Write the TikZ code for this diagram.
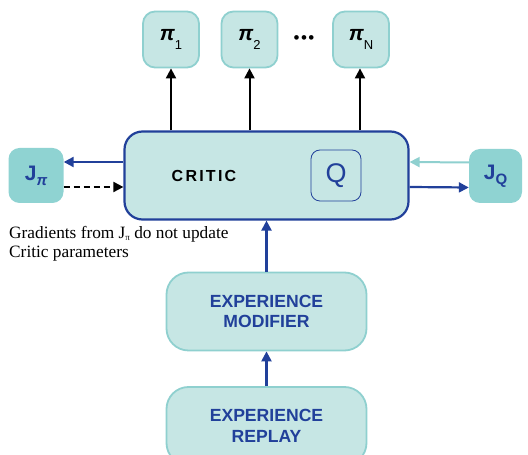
\documentclass[tikz,border=0pt]{standalone}
\usepackage{fontspec}
\setmainfont{Liberation Serif}
\setsansfont{Liberation Sans}
\usetikzlibrary{positioning}
\usetikzlibrary{arrows.meta}
\definecolor{boxfill}{HTML}{C6E6E4}
\definecolor{boxline}{HTML}{8FD0CF}
\definecolor{jfill}{HTML}{8FD3D2}
\definecolor{darkblue}{HTML}{21409A}
\tikzset{
	tealbox/.style={draw=boxline, line width=1.8pt, fill=boxfill, rounded corners=12pt, inner sep=0pt},
	jbox/.style={fill=jfill, rounded corners=11pt, inner sep=0pt, minimum width=55pt, minimum height=55pt, text=darkblue, font=\sffamily\bfseries\fontsize{21}{21}\selectfont},
	pibox/.style={tealbox, minimum width=56pt, minimum height=56pt, font=\sffamily\fontsize{21}{21}\selectfont},
	bigbox/.style={tealbox, rounded corners=22pt, minimum width=200pt, minimum height=78pt, text=darkblue, align=center, font=\sffamily\bfseries\fontsize{17.6}{20.5}\selectfont},
	blk/.style={-{Triangle[length=10pt,width=10pt]}, line width=2pt},
	bl/.style={-{Triangle[length=10pt,width=10pt]}, line width=2.2pt, draw=darkblue},
}
\newcommand{\pisym}[1]{{\bfseries\itshape π}\raisebox{-9pt}{\fontsize{13}{13}\selectfont #1}}
\begin{document}
\begin{tikzpicture}[x=1pt, y=1pt]
	\useasboundingbox (0,0) rectangle (528,455);
	\clip (0,0) rectangle (528,455);
	% Critic in the middle
	\node [tealbox, draw=darkblue, line width=2.2pt, rounded corners=18pt, minimum width=284pt, minimum height=88pt] at (266.5,279.5) (critic) {};
	\node [font=\sffamily\bfseries\addfontfeatures{LetterSpace=14}\fontsize{16}{16}\selectfont] at (204,279.5) (criticlbl) {CRITIC};
	\node [draw=darkblue, line width=0.8pt, rounded corners=9pt, minimum width=50pt, minimum height=51pt, text=darkblue, font=\sffamily\fontsize{27}{27}\selectfont] at (336,279.5) (Q) {Q};
	
	% Policies
	\node [pibox] at (171,415.5) (pi1) {\pisym{1}};
	\node [pibox] at (249.5,415.5) (pi2) {\pisym{2}};
	\node [pibox] at (361,415.5) (piN) {\pisym{N}};
	\node [font=\sffamily\fontsize{17}{17}\selectfont] at (304,415.5) (dots) {•\hspace{1.5pt}•\hspace{1.5pt}•};
	
	% Objectives
	\node [jbox] at (36,279.5) (Jpi) {J\raisebox{-5pt}{\fontsize{15}{15}\selectfont\itshape π}};
	\node [jbox, minimum width=53pt, minimum height=54pt] at (495.5,279) (JQ) {J\raisebox{-5pt}{\fontsize{15}{15}\selectfont Q}};
	\node [anchor=north west, align=left, inner sep=0pt, font=\fontsize{17.3}{19}\selectfont] at (9,229) (note) {Gradients from J\raisebox{-2pt}{\fontsize{9}{9}\selectfont π} do not update\\Critic parameters};
	
	% Experience
	\node [bigbox] at (266.5,143.5) (modifier) {EXPERIENCE\\MODIFIER};
	\node [bigbox] at (266.5,29) (replay) {EXPERIENCE\\REPLAY};
	
	% Connections
	\draw [blk] (critic.north -| pi1) -- (pi1.south);
	\draw [blk] (critic.north -| pi2) -- (pi2.south);
	\draw [blk] ([xshift=-1pt]critic.north -| piN) -- ([xshift=-1pt]piN.south);
	\draw [bl] ([yshift=13.5pt]critic.west) -- ([yshift=13.5pt]Jpi.east);
	\draw [blk, dash pattern=on 6pt off 4pt, line width=1.8pt] ([yshift=-11.5pt]Jpi.east) -- ([yshift=-11.5pt]critic.west);
	\draw [bl, draw=boxline, line width=2pt] ([yshift=13.5pt]JQ.west) -- ([yshift=13.5pt]critic.east);
	\draw [bl] ([yshift=-11.5pt]critic.east) -- ([yshift=-11.5pt]JQ.west);
	\draw [bl] (modifier) -- (critic);
	\draw [bl] (replay) -- (modifier);
\end{tikzpicture}
\end{document}
